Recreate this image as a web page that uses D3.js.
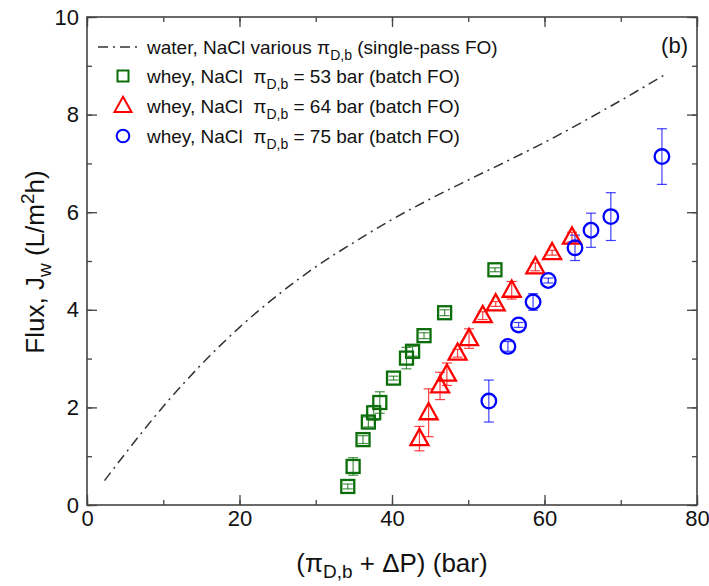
<!DOCTYPE html>
<html>
<head>
<meta charset="utf-8">
<script src="https://cdn.jsdelivr.net/npm/d3@7"></script>
<style>
  body { margin: 0; background: #fff; }
  text { font-family: Arial, "Liberation Sans", sans-serif; fill: #111; }
</style>
</head>
<body>
<svg id="chart" width="709" height="586"></svg>
<script>
// water flux vs driving force
var water_x = [2.3, 5, 10, 15, 20, 25, 30, 35, 40, 45, 50, 55, 60, 65, 70, 75.7];
var water_y = [0.50, 1.05, 2.02, 2.88, 3.64, 4.30, 4.88, 5.38, 5.85, 6.27, 6.66, 7.04, 7.43, 7.85, 8.29, 8.81];

var b53_x = [34.2, 34.9, 36.2, 36.9, 37.6, 38.4, 40.2, 41.9, 42.7, 44.2, 46.9, 53.5];
var b53_y = [0.38, 0.79, 1.34, 1.70, 1.89, 2.10, 2.60, 3.01, 3.15, 3.47, 3.94, 4.82];
var b53_err = [0.05, 0.18, 0.08, 0.10, 0.15, 0.22, 0.04, 0.22, 0.10, 0.06, 0.06, 0.04];

var b64_x = [43.6, 44.8, 46.3, 47.2, 48.6, 50.1, 51.9, 53.6, 55.7, 58.8, 61.0, 63.6];
var b64_y = [1.36, 1.89, 2.44, 2.68, 3.11, 3.41, 3.88, 4.12, 4.40, 4.88, 5.17, 5.49];
var b64_err = [0.25, 0.49, 0.28, 0.23, 0.08, 0.20, 0.08, 0.05, 0.18, 0.08, 0.05, 0.10];

var b75_x = [52.7, 55.2, 56.6, 58.5, 60.5, 64.0, 66.1, 68.7, 75.4];
var b75_y = [2.13, 3.25, 3.69, 4.16, 4.60, 5.27, 5.63, 5.91, 7.14];
var b75_err = [0.43, 0.10, 0.05, 0.17, 0.05, 0.26, 0.35, 0.49, 0.57];

var x_ticks = [0, 20, 40, 60, 80];
var y_ticks = [0, 2, 4, 6, 8, 10];

var svg = d3.select('#chart');
var x = d3.scaleLinear().domain([0, 80]).range([87, 697]);
var y = d3.scaleLinear().domain([0, 10]).range([505, 17]);

var axis_color = '#444';

// zip helper
function pts(xs, ys, es) {
    return xs.map(function(d, i) { return {x: d, y: ys[i], e: es ? es[i] : 0}; });
}

// axes, ticks pointing inward on all four sides
function draw_axis(axis, transform, labels) {
    var g = svg.append('g').attr('transform', transform).call(axis);
    g.selectAll('line').attr('stroke', axis_color).attr('stroke-width', 1.3);
    g.select('.domain').remove();
    if (labels) {
        g.selectAll('text').style('font-size', '22px').attr('fill', '#111');
    } else {
        g.selectAll('text').remove();
    }
    return g;
}
var minor_x = d3.range(0, 81, 10);
var minor_y = d3.range(0, 10.1, 1);
draw_axis(d3.axisBottom(x).tickValues(minor_x).tickSize(-5).tickFormat(''), 'translate(0,505)', false);
draw_axis(d3.axisBottom(x).tickValues(x_ticks).tickSize(-10).tickPadding(5), 'translate(0,505)', true);
draw_axis(d3.axisTop(x).tickValues(minor_x).tickSize(-5).tickFormat(''), 'translate(0,17)', false);
draw_axis(d3.axisTop(x).tickValues(x_ticks).tickSize(-10), 'translate(0,17)', false);
draw_axis(d3.axisLeft(y).tickValues(minor_y).tickSize(-5).tickFormat(''), 'translate(87,0)', false);
draw_axis(d3.axisLeft(y).tickValues(y_ticks).tickSize(-10).tickPadding(8), 'translate(87,0)', true);
draw_axis(d3.axisRight(y).tickValues(minor_y).tickSize(-5).tickFormat(''), 'translate(697,0)', false);
draw_axis(d3.axisRight(y).tickValues(y_ticks).tickSize(-10), 'translate(697,0)', false);

svg.append('rect')
    .attr('x', 87).attr('y', 17)
    .attr('width', 610).attr('height', 488)
    .attr('fill', 'none')
    .attr('stroke', axis_color)
    .attr('stroke-width', 1.6);

// single-pass curve
var dash = '10,5,2,5';
svg.append('path')
    .datum(pts(water_x, water_y))
    .attr('fill', 'none')
    .attr('stroke', '#333')
    .attr('stroke-width', 1.5)
    .attr('stroke-dasharray', dash)
    .attr('d', d3.line().curve(d3.curveMonotoneX)
        .x(function(d) { return x(d.x); })
        .y(function(d) { return y(d.y); }));

// error bars with caps
function draw_errors(data, color) {
    var g = svg.append('g')
        .attr('stroke', color)
        .attr('stroke-width', 1.2)
        .attr('stroke-opacity', 0.75);
    data.forEach(function(d) {
        var cx = x(d.x), top = y(d.y + d.e), bot = y(d.y - d.e);
        g.append('line').attr('x1', cx).attr('x2', cx).attr('y1', top).attr('y2', bot);
        g.append('line').attr('x1', cx - 5).attr('x2', cx + 5).attr('y1', top).attr('y2', top);
        g.append('line').attr('x1', cx - 5).attr('x2', cx + 5).attr('y1', bot).attr('y2', bot);
    });
}

var green = '#0b6e0b', red = '#ff0000', blue = '#0000ff';
var d53 = pts(b53_x, b53_y, b53_err);
var d64 = pts(b64_x, b64_y, b64_err);
var d75 = pts(b75_x, b75_y, b75_err);

draw_errors(d53, green);
draw_errors(d64, red);
draw_errors(d75, blue);

function square(g, cx, cy, s) {
    return g.append('rect').attr('x', cx - s / 2).attr('y', cy - s / 2)
        .attr('width', s).attr('height', s);
}
function triangle(g, cx, cy, w) {
    var h = w * 0.9;
    return g.append('path')
        .attr('d', 'M' + cx + ',' + (cy - h * 0.6) + 'L' + (cx + w / 2) + ',' + (cy + h * 0.4) +
            'L' + (cx - w / 2) + ',' + (cy + h * 0.4) + 'Z');
}

var gs = svg.append('g').attr('fill', 'none').attr('stroke', green).attr('stroke-width', 2.3);
d53.forEach(function(d) { square(gs, x(d.x), y(d.y), 13); });

var gt = svg.append('g').attr('fill', 'none').attr('stroke', red).attr('stroke-width', 2.3)
    .attr('stroke-linejoin', 'miter');
d64.forEach(function(d) { triangle(gt, x(d.x), y(d.y), 18); });

var gc = svg.append('g').attr('fill', 'none').attr('stroke', blue).attr('stroke-width', 2.3);
d75.forEach(function(d) { gc.append('circle').attr('cx', x(d.x)).attr('cy', y(d.y)).attr('r', 7.3); });

// legend
var leg_rows = [47, 76, 106, 136];
svg.append('line')
    .attr('x1', 98).attr('x2', 142).attr('y1', leg_rows[0]).attr('y2', leg_rows[0])
    .attr('stroke', '#333').attr('stroke-width', 1.5).attr('stroke-dasharray', dash);

var lg = svg.append('g').attr('fill', 'none').attr('stroke-width', 2);
square(lg, 123, leg_rows[1], 11).attr('stroke', green);
triangle(lg, 123, leg_rows[2], 17).attr('stroke', red);
lg.append('circle').attr('cx', 123).attr('cy', leg_rows[3]).attr('r', 6.3).attr('stroke', blue);

function pi_db(t) {
    t.append('tspan').text('\u03c0');
    t.append('tspan').attr('dy', 6).style('font-size', '14px').text('D,b');
    return t;
}

var fs = '19px';
var t0 = svg.append('text').attr('x', 147).attr('y', leg_rows[0] + 7).style('font-size', fs);
t0.append('tspan').text('water, NaCl various ');
pi_db(t0);
t0.append('tspan').attr('dy', -6).text(' (single-pass FO)');

['53', '64', '75'].forEach(function(v, i) {
    var t = svg.append('text').attr('x', 147).attr('y', leg_rows[i + 1] + 7)
        .style('font-size', fs).attr('xml:space', 'preserve');
    t.append('tspan').text('whey, NaCl  ');
    pi_db(t);
    t.append('tspan').attr('dy', -6).text(' = ' + v + ' bar (batch FO)');
});

svg.append('text').attr('x', 688).attr('y', 53)
    .attr('text-anchor', 'end').style('font-size', '22px').text('(b)');

// axis titles
var xt = svg.append('text').attr('x', 392).attr('y', 572)
    .attr('text-anchor', 'middle').style('font-size', '26px');
xt.append('tspan').text('(\u03c0');
xt.append('tspan').attr('dy', 6).style('font-size', '19px').text('D,b');
xt.append('tspan').attr('dy', -6).text(' + \u0394P) (bar)');

var yt = svg.append('text')
    .attr('transform', 'translate(44,262) rotate(-90)')
    .attr('text-anchor', 'middle').style('font-size', '26px');
yt.append('tspan').text('Flux, J');
yt.append('tspan').attr('dy', 7).style('font-size', '19px').text('w');
yt.append('tspan').attr('dy', -7).text(' (L/m');
yt.append('tspan').attr('dy', -10).style('font-size', '19px').text('2');
yt.append('tspan').attr('dy', 10).text('h)');
</script>
</body>
</html>
